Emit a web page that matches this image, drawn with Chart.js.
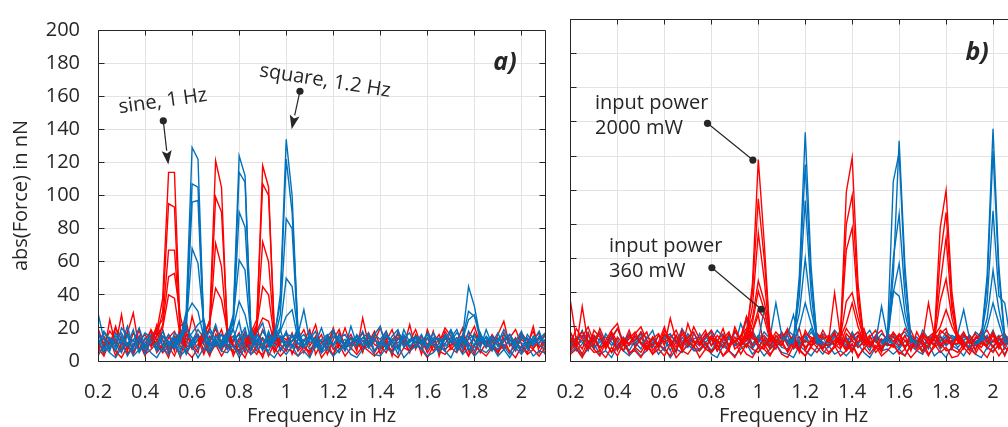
<!DOCTYPE html>
<html>
<head>
<meta charset="utf-8">
<script src="https://cdn.jsdelivr.net/npm/chart.js@4.4.1/dist/chart.umd.min.js"></script>
<style>
  html, body { margin: 0; padding: 0; background: #fff; overflow: hidden; }
  body { width: 1008px; height: 427px; position: relative; }
  canvas { position: absolute; top: 0; }
  #chartA { left: 0; }
  #chartB { left: 525px; }
</style>
</head>
<body>
<canvas id="chartA" width="555" height="427"></canvas>
<canvas id="chartB" width="505" height="427"></canvas>
<script>
// frequency grid of the spectra (0.025 Hz bins)
const freqs = [
  0.2, 0.225, 0.25, 0.275, 0.3, 0.325, 0.35, 0.375, 0.4, 0.425, 0.45,
  0.475, 0.5, 0.525, 0.55, 0.575, 0.6, 0.625, 0.65, 0.675, 0.7, 0.725,
  0.75, 0.775, 0.8, 0.825, 0.85, 0.875, 0.9, 0.925, 0.95, 0.975, 1.0,
  1.025, 1.05, 1.075, 1.1, 1.125, 1.15, 1.175, 1.2, 1.225, 1.25, 1.275,
  1.3, 1.325, 1.35, 1.375, 1.4, 1.425, 1.45, 1.475, 1.5, 1.525, 1.55,
  1.575, 1.6, 1.625, 1.65, 1.675, 1.7, 1.725, 1.75, 1.775, 1.8, 1.825,
  1.85, 1.875, 1.9, 1.925, 1.95, 1.975, 2.0, 2.025, 2.05, 2.075, 2.1
];
const xTicks = [0.2, 0.4, 0.6, 0.8, 1.0, 1.2, 1.4, 1.6, 1.8, 2.0];
const xTickLabels = ['0.2', '0.4', '0.6', '0.8', '1', '1.2', '1.4', '1.6', '1.8', '2'];
const yTicks = [0, 20, 40, 60, 80, 100, 120, 140, 160, 180, 200];
const yTickLabels = ['0', '20', '40', '60', '80', '100', '120', '140', '160', '180', '200'];

// a) noise floor traces, one value per bin (groups of 11 bins)
const redNoiseA = [
  '12 4 25 9 28 6 17 11 3 14 8 | 19 7 12 2 16 10 5 21 9 13 6 | 15 3 11 18 8 4 14 10 20 6 12 | 9 16 5 13 22 7 11 3 17 10 14 | 6 26 10 15 4 12 19 8 13 5 16 | 11 7 18 3 14 9 12 20 6 10 15 | 8 13 4 17 11 6 15 9 21 5 12',
  '20 9 14 3 11 17 29 7 13 18 5 | 10 16 6 21 24 8 13 4 15 11 19 | 7 12 17 5 14 9 2 13 18 10 6 | 16 8 12 19 4 11 15 7 10 20 9 | 13 5 17 10 8 14 3 18 11 6 15 | 4 19 9 13 16 7 11 5 14 21 10 | 12 7 16 24 9 14 5 11 18 8 13',
  '6 15 10 21 7 18 4 12 16 9 22 | 13 5 11 17 8 27 14 10 3 16 12 | 18 9 6 14 11 20 8 15 5 12 17 | 4 13 19 9 15 6 12 18 10 7 14 | 11 17 8 12 20 10 6 14 9 22 7 | 15 10 13 6 18 12 8 16 11 4 13 | 9 16 11 7 14 19 10 5 13 17 8',
  '3 10 18 13 6 11 8 19 5 14 17 | 9 2 15 12 18 7 10 16 6 11 8 | 12 15 4 10 7 16 13 3 11 14 9 | 17 6 10 3 14 12 8 20 7 11 16 | 8 12 14 5 11 18 9 13 15 8 10 | 13 5 11 16 7 10 14 9 3 17 11 | 14 9 6 12 16 8 13 10 7 15 4',
  '8 3 12 6 2 9 5 14 4 7 11 | 5 9 3 12 6 2 8 13 4 10 3 | 9 5 7 2 11 6 4 10 8 3 7 | 6 3 9 5 12 2 7 4 10 3 8 | 4 9 6 3 7 11 5 2 8 6 10 | 7 2 9 6 4 8 5 12 3 9 6 | 3 8 5 10 6 2 9 4 7 3 8',
  '16 11 7 20 13 4 10 15 8 19 12 | 7 14 18 9 5 13 16 6 11 20 8 | 10 6 13 16 4 9 19 11 7 15 13 | 12 18 8 6 11 16 4 13 19 8 10 | 15 7 11 18 9 5 13 16 10 12 19 | 9 14 6 11 20 15 7 10 17 13 5 | 11 15 9 14 5 10 17 12 8 11 16'
];
const blueNoiseA = [
  '29 13 6 17 10 21 8 15 4 12 19 | 9 16 11 5 20 14 7 18 12 22 10 | 17 8 14 20 6 13 10 16 11 19 7 | 12 15 9 13 18 5 14 10 16 8 21 | 10 14 17 6 12 9 15 19 8 13 11 | 16 7 12 14 10 18 6 13 15 9 17 | 8 14 11 19 13 7 16 10 12 18 9',
  '18 7 14 10 5 16 12 20 9 13 6 | 15 11 8 19 13 17 22 25 10 14 16 | 9 13 24 7 15 11 18 12 20 14 8 | 16 10 13 7 11 20 9 15 12 6 14 | 11 18 8 13 10 16 12 7 19 11 15 | 13 9 17 11 6 14 19 10 13 16 8 | 19 10 7 13 16 11 8 14 10 13 17',
  '10 17 12 6 15 9 19 5 11 16 13 | 12 6 17 14 21 10 15 12 18 9 16 | 11 19 8 15 12 17 23 9 14 10 18 | 8 13 16 11 14 12 7 17 13 9 11 | 15 9 12 16 21 7 13 11 14 17 8 | 12 16 10 8 13 19 11 14 9 15 12 | 14 8 13 16 10 12 18 7 13 11 15',
  '14 5 10 15 12 3 9 13 7 15 8 | 6 12 9 14 4 11 16 10 5 13 9 | 14 9 5 12 8 16 10 6 13 15 11 | 10 7 12 15 8 13 16 9 5 11 14 | 13 10 15 6 11 8 12 4 16 9 12 | 7 14 10 5 15 12 8 14 10 6 13 | 11 6 14 9 4 13 11 8 15 10 7',
  '11 14 8 12 17 9 13 6 14 11 7 | 15 10 14 7 12 9 13 11 20 12 8 | 13 15 9 17 12 8 14 10 15 7 12 | 12 20 9 15 11 7 13 9 14 16 10 | 9 14 11 16 13 18 8 14 10 12 15 | 11 8 14 13 9 12 17 13 7 10 14 | 12 15 9 12 16 7 14 13 9 15 10',
  '4 9 5 2 8 11 3 7 10 5 2 | 8 4 10 3 7 9 2 8 5 11 6 | 5 10 2 8 4 7 9 5 2 8 4 | 9 3 6 2 10 5 8 3 7 9 4 | 2 7 9 4 3 8 5 10 2 6 9 | 8 3 5 9 6 2 10 4 8 3 7 | 5 9 3 7 2 8 4 9 3 6 5',
  '9 18 13 8 20 15 6 11 17 14 10 | 18 9 13 16 8 12 19 14 7 15 11 | 7 12 16 10 19 14 6 18 9 13 16 | 15 11 8 17 12 9 15 19 11 13 7 | 16 12 9 14 7 15 11 17 13 8 14 | 10 17 13 8 16 11 14 7 18 12 9 | 15 11 17 8 13 10 6 16 11 14 12'
];
// a) peak traces: [first bin frequency, values]
const redPeaksA = [
  [0.425, [12, 18, 38, 114, 114, 16, 10]],
  [0.425, [9, 15, 30, 95, 93, 12, 8]],
  [0.425, [14, 20, 25, 67, 67, 18, 11]],
  [0.425, [10, 12, 22, 51, 53, 27, 13]],
  [0.425, [8, 16, 20, 40, 38, 14, 9]],
  [0.625, [10, 14, 25, 121, 105, 15, 9]],
  [0.625, [12, 18, 22, 99, 90, 20, 11]],
  [0.625, [9, 13, 20, 71, 57, 14, 12]],
  [0.625, [11, 16, 24, 44, 37, 18, 10]],
  [0.825, [10, 15, 22, 118, 105, 14, 9]],
  [0.825, [12, 17, 25, 107, 100, 18, 11]],
  [0.825, [9, 13, 20, 72, 60, 15, 12]],
  [0.825, [11, 16, 21, 45, 40, 13, 10]],
  [0.825, [8, 12, 18, 26, 24, 11, 9]]
];
const bluePeaksA = [
  [0.525, [10, 14, 30, 129, 122, 18, 11]],
  [0.525, [12, 11, 25, 107, 105, 20, 9]],
  [0.525, [9, 16, 22, 96, 97, 15, 12]],
  [0.525, [11, 13, 20, 68, 59, 22, 10]],
  [0.525, [8, 12, 28, 35, 30, 14, 9]],
  [0.725, [11, 15, 28, 124, 112, 18, 10]],
  [0.725, [9, 12, 24, 114, 108, 16, 12]],
  [0.725, [12, 18, 22, 90, 81, 20, 9]],
  [0.725, [10, 14, 26, 61, 55, 15, 11]],
  [0.725, [8, 13, 20, 36, 28, 12, 10]],
  [0.925, [10, 14, 40, 134, 100, 16, 11]],
  [0.925, [12, 16, 35, 122, 90, 19, 10]],
  [0.925, [9, 13, 28, 86, 80, 14, 12]],
  [0.925, [11, 15, 20, 50, 45, 17, 9]],
  [0.925, [8, 12, 18, 27, 31, 13, 10]],
  [1.025, [12, 16, 31, 12]],
  [1.725, [12, 15, 45, 33, 14, 10]],
  [1.725, [10, 14, 30, 27, 16, 11]],
  [1.725, [11, 13, 25, 28, 12, 9]]
];

// b) noise floor traces
const redNoiseB = [
  '35 12 7 16 9 19 11 5 14 10 18 | 8 13 17 6 11 20 9 15 7 22 12 | 10 16 13 6 15 9 18 11 14 17 8 | 13 7 11 16 9 14 5 18 12 8 15 | 11 17 8 13 6 14 19 9 12 5 16 | 14 9 15 6 17 10 8 13 16 19 7 | 16 11 6 14 12 9 17 10 15 7 13',
  '14 8 32 10 15 6 12 18 22 9 13 | 17 10 6 14 8 16 12 5 18 11 9 | 13 18 9 15 11 6 20 12 8 16 10 | 7 15 12 9 17 11 19 6 13 15 10 | 9 12 18 11 5 15 9 14 18 7 13 | 16 13 7 18 10 5 14 17 9 12 11 | 10 15 13 6 18 12 8 14 9 13 17',
  '7 13 17 11 14 8 10 16 6 13 9 | 15 11 7 13 16 9 25 12 7 14 11 | 11 7 14 10 13 17 7 10 16 9 14 | 12 9 15 10 6 13 14 8 11 16 7 | 14 10 7 16 12 8 11 15 7 13 10 | 8 15 12 7 11 16 13 9 14 10 12 | 13 7 15 11 8 13 16 9 11 14 8',
  '6 10 4 12 7 3 11 5 9 13 4 | 8 5 11 4 10 7 3 12 6 9 11 | 6 11 5 9 3 8 12 4 10 7 5 | 10 4 8 12 5 11 7 3 9 11 6 | 4 8 11 6 10 3 7 12 5 9 10 | 9 5 3 10 7 12 4 8 11 6 7 | 5 10 7 4 11 8 5 10 3 12 7',
  '10 19 13 7 18 14 8 17 11 6 15 | 12 17 7 14 9 18 13 8 16 10 20 | 13 7 15 11 19 8 14 9 12 17 27 | 8 13 10 17 11 15 7 12 9 16 13 | 15 9 13 7 14 11 17 9 13 7 15 | 11 16 8 13 9 15 10 17 8 13 9 | 14 8 12 16 10 9 15 7 13 10 16',
  '4 7 2 9 5 6 2 8 3 10 5 | 6 2 9 4 7 3 10 2 6 4 9 | 2 7 5 10 3 6 2 9 4 2 8 | 7 3 10 4 2 9 6 3 8 5 10 | 5 9 3 6 10 2 8 4 9 3 6 | 10 4 7 2 6 9 3 10 5 8 2 | 3 8 4 10 6 2 9 3 8 5 6',
  '17 9 14 20 11 16 7 13 19 12 10 | 16 20 12 9 15 11 13 18 10 14 17 | 9 14 18 12 8 16 11 15 19 13 12 | 15 11 17 13 19 8 12 16 14 10 18 | 12 16 10 19 14 17 11 8 15 18 11 | 17 12 19 14 11 16 12 9 18 15 13 | 12 17 10 13 15 18 11 14 16 9 14'
];
const blueNoiseB = [
  '14 9 12 17 7 13 10 16 9 12 6 | 12 16 8 13 10 6 15 12 9 16 11 | 9 13 17 6 12 15 9 22 13 10 15 | 14 10 7 15 12 9 14 11 17 12 8 | 10 15 12 7 14 17 11 6 15 12 14 | 12 8 15 14 10 12 7 16 12 14 10 | 15 12 8 13 17 10 12 15 7 14 12',
  '9 14 11 6 15 12 8 14 7 11 16 | 11 7 14 12 9 15 11 6 14 9 13 | 14 11 6 12 16 9 12 14 24 8 12 | 9 14 12 8 7 14 10 15 9 12 7 | 12 9 14 11 16 8 12 10 14 6 12 | 14 11 8 15 12 6 14 12 9 15 10 | 10 14 12 7 12 15 8 12 14 10 8',
  '5 8 3 7 10 4 6 2 9 6 3 | 7 3 6 10 4 8 2 7 5 10 6 | 6 10 4 2 9 6 3 7 10 4 8 | 3 7 10 5 4 2 9 6 3 8 4 | 9 4 6 3 7 10 5 2 8 6 7 | 4 7 3 9 6 4 10 3 6 2 9 | 7 3 9 4 2 8 6 9 4 10 3',
  '12 6 10 15 8 11 14 9 13 6 10 | 10 14 7 11 9 13 6 15 10 12 7 | 7 11 14 6 10 13 9 11 15 7 13 | 11 8 13 10 15 7 11 8 12 10 14 | 8 12 10 14 7 11 15 10 8 12 9 | 10 7 12 11 8 14 10 13 7 11 15 | 13 10 8 11 14 7 12 9 15 8 11',
  '8 12 15 10 13 8 16 11 7 14 10 | 14 10 12 8 15 11 9 14 12 8 16 | 11 15 9 12 8 14 11 9 12 15 8 | 13 9 14 16 10 12 9 15 8 14 11 | 9 14 11 8 12 15 9 13 14 11 9 | 15 12 8 11 14 9 13 10 15 9 12 | 8 12 15 9 11 14 8 13 10 12 14',
  '16 11 18 8 13 17 9 14 19 10 15 | 9 17 13 18 7 14 16 10 19 13 8 | 16 9 12 18 14 7 17 13 9 18 11 | 17 13 9 12 18 15 8 13 19 11 16 | 13 18 14 9 17 10 14 18 11 16 13 | 9 15 17 12 8 18 13 16 11 17 14 | 12 16 10 17 14 11 18 9 15 13 16'
];
// b) peak traces
const redPeaksB = [
  [0.9, [11, 14, 26, 13]],
  [0.925, [12, 15, 45, 118, 70, 14, 10]],
  [0.925, [10, 18, 40, 95, 60, 16, 12]],
  [0.925, [9, 14, 32, 75, 48, 13, 11]],
  [0.925, [11, 16, 25, 47, 35, 18, 9]],
  [0.925, [13, 12, 22, 41, 30, 15, 10]],
  [0.925, [10, 26, 18, 30, 25, 12, 11]],
  [1.325, [10, 15, 99, 119, 45, 12, 11]],
  [1.325, [12, 13, 80, 97, 38, 14, 9]],
  [1.325, [9, 16, 65, 78, 32, 11, 12]],
  [1.325, [11, 14, 35, 40, 25, 13, 10]],
  [1.3, [12, 40, 14, 22, 34, 20, 11, 10]],
  [1.725, [10, 14, 78, 100, 40, 13, 11]],
  [1.725, [12, 13, 61, 87, 35, 11, 9]],
  [1.725, [9, 16, 45, 72, 30, 14, 12]],
  [1.725, [11, 12, 35, 48, 25, 12, 10]],
  [1.7, [12, 34, 15, 20, 30, 20, 13, 11]]
];
const bluePeaksB = [
  [1.0, [12, 30, 14, 34, 15, 11]],
  [1.1, [12, 15, 27, 11]],
  [1.125, [11, 10, 50, 134, 55, 12, 10]],
  [1.125, [9, 13, 45, 115, 48, 14, 11]],
  [1.125, [12, 11, 38, 94, 40, 10, 13]],
  [1.125, [10, 14, 28, 60, 30, 13, 9]],
  [1.125, [13, 12, 20, 34, 22, 11, 10]],
  [1.5, [11, 32, 14, 10]],
  [1.525, [10, 12, 50, 129, 55, 12, 11]],
  [1.525, [11, 14, 105, 122, 48, 14, 9]],
  [1.525, [9, 13, 60, 86, 38, 11, 12]],
  [1.525, [12, 11, 40, 57, 28, 13, 10]],
  [1.525, [10, 15, 41, 38, 22, 12, 11]],
  [1.825, [12, 16, 30, 13]],
  [1.925, [10, 14, 50, 136, 55, 14, 12]],
  [1.925, [12, 12, 45, 123, 50, 12, 10]],
  [1.925, [9, 15, 35, 88, 38, 34, 11]],
  [1.925, [11, 13, 25, 53, 30, 13, 9]],
  [1.925, [10, 12, 20, 34, 22, 11, 12]]
];

const RED = '#ff0000';
const BLUE = '#0072bd';
const INK = '#262626';
const GRID = '#e3e3e3';
const FONT = '"Open Sans", "DejaVu Sans", sans-serif';

Chart.defaults.font.family = FONT;
Chart.defaults.font.size = 20;
Chart.defaults.color = INK;

const parseRow = s => s.trim().split(/[\s|]+/).map(Number);

function noiseSets(rows, color) {
  return rows.map(r => ({
    data: parseRow(r).map((v, i) => ({ x: freqs[i], y: v })),
    borderColor: color
  }));
}

function peakSets(list, color) {
  return list.map(([f, ys]) => {
    const i0 = freqs.findIndex(v => Math.abs(v - f) < 1e-9);
    return { data: ys.map((v, k) => ({ x: freqs[i0 + k], y: v })), borderColor: color };
  });
}

// annotation texts and pointers, placed in data units
const notesA = {
  texts: [
    { lines: ['sine, 1 Hz'], at: [0.476, 156.9], rot: -8, align: 'center' },
    { lines: ['square, 1.2 Hz'], at: [1.165, 169.2], rot: 9, align: 'center' }
  ],
  links: [
    { from: [0.4775, 145.1], to: [0.4988, 118.7], arrow: true },
    { from: [1.0585, 163.0], to: [1.0232, 140.1], arrow: true }
  ],
  tag: { text: 'a)', at: [1.93, 180.4] }
};
const notesB = {
  texts: [
    { lines: ['input power', '2000 mW'], at: [0.3045, 151.1], rot: 0, align: 'left' },
    { lines: ['input power', '360 mW'], at: [0.3642, 66.9], rot: 0, align: 'left' }
  ],
  links: [
    { from: [0.7836, 139.2], to: [0.977, 117.7], arrow: false },
    { from: [0.8024, 54.6], to: [1.0127, 30.3], arrow: false }
  ],
  tag: { text: 'b)', at: [1.932, 180.4] }
};

// box, inward ticks (matlab look) and the annotations
const framePlugin = {
  id: 'frame',
  afterDraw(chart, args, opt) {
    const { ctx, chartArea: a, scales: { x, y } } = chart;
    const al = v => Math.round(v - 0.5) + 0.5;
    const L = al(a.left), R = al(a.right), T = al(a.top), B = al(a.bottom);
    ctx.save();
    ctx.strokeStyle = INK;
    ctx.lineWidth = 1;
    ctx.beginPath();
    ctx.rect(L, T, R - L, B - T);
    xTicks.forEach(v => {
      const p = al(x.getPixelForValue(v));
      ctx.moveTo(p, B); ctx.lineTo(p, B - 5);
      ctx.moveTo(p, T); ctx.lineTo(p, T + 5);
    });
    yTicks.forEach(v => {
      const p = al(y.getPixelForValue(v));
      ctx.moveTo(L, p); ctx.lineTo(L + 6, p);
      ctx.moveTo(R, p); ctx.lineTo(R - 6, p);
    });
    ctx.stroke();

    const n = opt.notes;
    const P = ([fx, fy]) => [x.getPixelForValue(fx), y.getPixelForValue(fy)];
    const dot = (px, py) => { ctx.beginPath(); ctx.arc(px, py, 3.6, 0, Math.PI * 2); ctx.fill(); };
    ctx.fillStyle = INK;
    ctx.textBaseline = 'middle';
    ctx.font = '20px ' + FONT;
    n.texts.forEach(t => {
      const [cx, cy] = P(t.at);
      ctx.save();
      ctx.translate(cx, cy);
      ctx.rotate(t.rot * Math.PI / 180);
      ctx.textAlign = t.align;
      t.lines.forEach((s, i) => ctx.fillText(s, 0, i * 25));
      ctx.restore();
    });
    ctx.lineWidth = 1.2;
    n.links.forEach(l => {
      const [x0, y0] = P(l.from), [x1, y1] = P(l.to);
      const ang = Math.atan2(y1 - y0, x1 - x0);
      const hl = l.arrow ? 14 : 0, hw = 5;
      const bx = x1 - hl * Math.cos(ang), by = y1 - hl * Math.sin(ang);
      ctx.beginPath(); ctx.moveTo(x0, y0); ctx.lineTo(bx, by); ctx.stroke();
      dot(x0, y0);
      if (l.arrow) {
        ctx.beginPath();
        ctx.moveTo(x1, y1);
        ctx.lineTo(bx + hw * Math.sin(ang), by - hw * Math.cos(ang));
        ctx.lineTo(bx + 3 * Math.cos(ang), by + 3 * Math.sin(ang));
        ctx.lineTo(bx - hw * Math.sin(ang), by + hw * Math.cos(ang));
        ctx.closePath();
        ctx.fill();
      } else {
        dot(x1, y1);
      }
    });
    const [tx, ty] = P(n.tag.at);
    ctx.font = 'italic bold 25px ' + FONT;
    ctx.textAlign = 'center';
    ctx.fillText(n.tag.text, tx, ty);
    ctx.restore();
  }
};

function buildChart(id, datasets, o) {
  return new Chart(document.getElementById(id), {
    type: 'line',
    data: { datasets },
    options: {
      responsive: false,
      animation: false,
      devicePixelRatio: 1,
      layout: { padding: { left: 0, right: o.padRight, top: 19.5, bottom: 0 } },
      elements: { line: { borderWidth: 1.4, tension: 0, fill: false }, point: { radius: 0 } },
      plugins: { legend: { display: false }, tooltip: { enabled: false }, frame: { notes: o.notes } },
      scales: {
        x: {
          type: 'linear', min: 0.2, max: 2.1,
          afterBuildTicks: s => { s.ticks = xTicks.map(value => ({ value })); },
          afterFit: s => { s.height = 66; },
          grid: { color: GRID, drawTicks: false },
          border: { display: false },
          ticks: { autoSkip: false, maxRotation: 0, padding: 19, callback: (v, i) => xTickLabels[i] },
          title: { display: true, text: 'Frequency in Hz', font: { size: 20, lineHeight: 1.1 }, padding: { top: 0, bottom: 0 } }
        },
        y: {
          min: 0, max: 200,
          afterBuildTicks: s => { s.ticks = yTicks.map(value => ({ value })); },
          afterFit: s => { s.width = o.yWidth; },
          grid: { color: GRID, drawTicks: false },
          border: { display: false },
          ticks: { display: o.yLabels, padding: 18, callback: (v, i) => yTickLabels[i] },
          title: { display: o.yLabels, text: 'abs(Force) in nN', padding: { top: 9, bottom: 0 } }
        }
      }
    },
    plugins: [framePlugin]
  });
}

// first dataset is drawn on top
buildChart('chartA', [
  ...peakSets(bluePeaksA, BLUE),
  ...peakSets(redPeaksA, RED),
  ...noiseSets(blueNoiseA, BLUE),
  ...noiseSets(redNoiseA, RED)
], { padRight: 10, yWidth: 98, yLabels: true, notes: notesA });

buildChart('chartB', [
  ...peakSets(redPeaksB, RED),
  ...peakSets(bluePeaksB, BLUE),
  ...noiseSets(redNoiseB, RED),
  ...noiseSets(blueNoiseB, BLUE)
], { padRight: 13.5, yWidth: 45.5, yLabels: false, notes: notesB });
</script>
</body>
</html>
